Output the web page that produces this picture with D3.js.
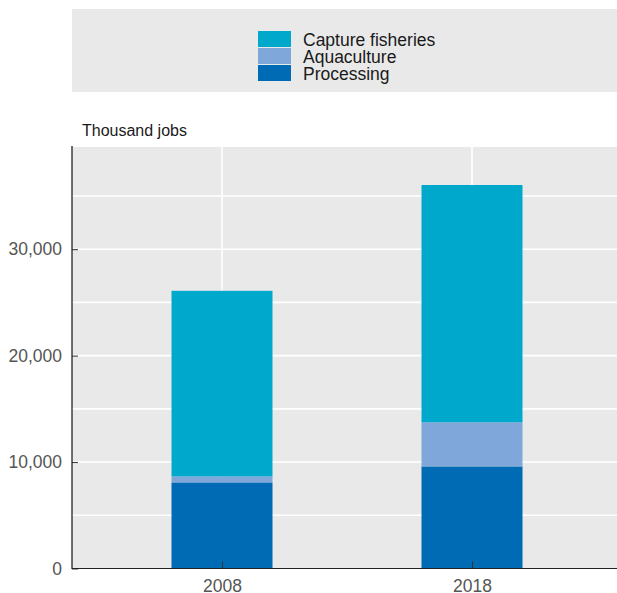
<!DOCTYPE html>
<html>
<head>
<meta charset="utf-8">
<script src="https://cdn.jsdelivr.net/npm/d3@7"></script>
<style>
  html, body { margin: 0; padding: 0; background: #fff; }
  svg { display: block; font-family: "Liberation Sans", Arial, sans-serif; }
</style>
</head>
<body>
<svg id="chart" width="617" height="593"></svg>
<script>
// ---- data ----
const years = ["2008", "2018"];
const seriesNames = ["Processing", "Aquaculture", "Capture fisheries"];
const processing = [8090, 9590];
const aquaculture = [560, 4150];
const capture = [17440, 22290];
const yTickValues = [0, 10000, 20000, 30000];
const yGridValues = [5000, 10000, 15000, 20000, 25000, 30000, 35000];
const legendOrder = ["Capture fisheries", "Aquaculture", "Processing"];
const colors = { "Capture fisheries": "#00a9cc", "Aquaculture": "#7fa7d9", "Processing": "#006bb5" };

(function () {
const rows = years.map((y, i) => ({ year: y, "Processing": processing[i], "Aquaculture": aquaculture[i], "Capture fisheries": capture[i] }));
const stacked = d3.stack().keys(seriesNames)(rows);

const svg = d3.select("#chart");
const W = 617;
const mLeft = 72, mTop = 147, mBottom = 568.5, mRight = 622;

// legend panel
svg.append("rect").attr("x", 72).attr("y", 9).attr("width", W - 72).attr("height", 83).attr("fill", "#e9e9e9");
const lg = svg.append("g").attr("transform", "translate(258,31)");
legendOrder.forEach((name, i) => {
  lg.append("rect").attr("x", 0).attr("y", i * 17).attr("width", 33).attr("height", 16).attr("fill", colors[name]);
  lg.append("text").attr("x", 45).attr("y", i * 17 + 15).attr("font-size", "17.5px").attr("fill", "#1a1a1a").text(name);
});

// plot panel
svg.append("rect").attr("x", mLeft).attr("y", mTop).attr("width", W - mLeft).attr("height", mBottom - mTop).attr("fill", "#e9e9e9");

const x = d3.scalePoint().domain(years).range([mLeft, mRight]).padding(0.6);
const bw = 101;
const y = d3.scaleLinear().domain([0, 39600]).range([mBottom, mTop]);

// gridlines
svg.append("g").selectAll("line").data(yGridValues).join("line")
  .attr("x1", mLeft).attr("x2", W).attr("y1", d => y(d)).attr("y2", d => y(d))
  .attr("stroke", "#fff").attr("stroke-width", 1.6);
svg.append("g").selectAll("line").data(years).join("line")
  .attr("x1", d => x(d)).attr("x2", d => x(d)).attr("y1", mTop).attr("y2", mBottom)
  .attr("stroke", "#fff").attr("stroke-width", 1.6);

// bars
svg.append("g").selectAll("g").data(stacked).join("g")
  .attr("fill", d => colors[d.key])
  .selectAll("rect").data(d => d).join("rect")
  .attr("x", d => x(d.data.year) - bw / 2)
  .attr("width", bw)
  .attr("y", d => y(d[1]))
  .attr("height", d => y(d[0]) - y(d[1]));

// y axis
const yAxis = svg.append("g").attr("transform", `translate(${mLeft},0)`)
  .call(d3.axisRight(y).tickValues(yTickValues).tickSize(6).tickFormat(d3.format(",")));
yAxis.select(".domain").remove();
yAxis.selectAll(".tick line").attr("stroke", "#333");
yAxis.selectAll(".tick text").attr("x", -10).attr("text-anchor", "end")
  .attr("font-size", "17.5px").attr("fill", "#555").attr("font-family", "Liberation Sans, Arial, sans-serif");
svg.append("line").attr("x1", mLeft).attr("x2", mLeft).attr("y1", mTop - 1).attr("y2", mBottom + 0.5)
  .attr("stroke", "#111").attr("stroke-width", 1.2);

// x axis
const xAxis = svg.append("g").attr("transform", `translate(0,${mBottom})`)
  .call(d3.axisTop(x).tickSize(7));
xAxis.select(".domain").remove();
xAxis.selectAll(".tick line").attr("stroke", "#333");
xAxis.selectAll(".tick text").attr("y", 23).attr("dy", 0).attr("font-size", "17.5px").attr("fill", "#555")
  .attr("font-family", "Liberation Sans, Arial, sans-serif");
svg.append("line").attr("x1", mLeft).attr("x2", W).attr("y1", mBottom).attr("y2", mBottom)
  .attr("stroke", "#222").attr("stroke-width", 1.2);

// unit label
svg.append("text").attr("x", 82).attr("y", 136).attr("font-size", "16px").attr("fill", "#1a1a1a").text("Thousand jobs");
})();
</script>
</body>
</html>
